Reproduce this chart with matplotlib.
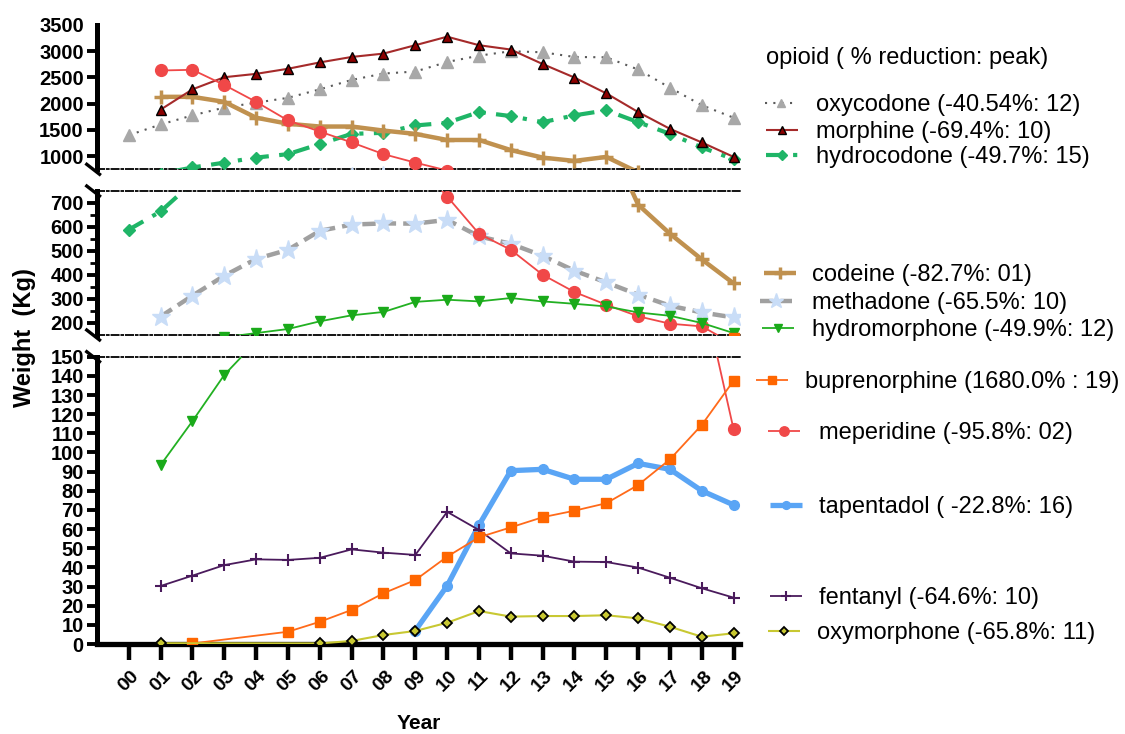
import numpy as np
import matplotlib
matplotlib.use("Agg")
import matplotlib.pyplot as plt

plt.rcParams['font.family'] = ['Liberation Sans', 'DejaVu Sans']

nan = np.nan
years = ['00', '01', '02', '03', '04', '05', '06', '07', '08', '09',
         '10', '11', '12', '13', '14', '15', '16', '17', '18', '19']

oxycodone = [1400, 1604, 1778, 1926, 2020, 2112, 2274, 2453, 2575, 2613,
             2795, 2916, 3000, 2980, 2891, 2884, 2652, 2305, 1971, 1733]
morphine = [nan, 1888, 2274, 2505, 2569, 2666, 2787, 2891, 2955, 3115,
            3277, 3115, 3032, 2756, 2498, 2197, 1841, 1521, 1262, 986]
hydrocodone = [589, 665, 785, 877, 973, 1039, 1232, 1425, 1445, 1585,
               1637, 1841, 1764, 1648, 1778, 1874, 1648, 1425, 1166, 942]
codeine = [nan, 2131, 2131, 2035, 1733, 1618, 1565, 1565, 1488, 1425,
           1309, 1309, 1116, 973, 910, 986, 693, 572, 465, 365]
methadone = [nan, 227, 314, 397, 467, 505, 584, 610, 615, 614,
             630, 561, 530, 480, 418, 369, 318, 272, 244, 223]
hydromorphone = [nan, 93.5, 116.4, 140.5, 158, 175, 207, 232, 246, 288,
                 297, 290, 304, 290, 280, 269, 244, 230, 200, 158]
buprenorphine = [nan, nan, 0.3, nan, nan, 6.4, 11.6, 17.8, 26.5, 33.4,
                 45.6, 55.7, 60.9, 66.2, 69.6, 73.5, 83.0, 96.4, 114.4, 137.5]
meperidine = [nan, 2633, 2646, 2357, 2035, 1681, 1469, 1262, 1039, 877,
              727, 572, 505, 401, 329, 276, 228, 197, 186, 112]
tapentadol = [nan, nan, nan, nan, nan, nan, nan, nan, nan, 7.0,
              30.4, 62.1, 90.5, 91.2, 86.0, 86.0, 94.3, 91.2, 80.0, 72.6]
fentanyl = [nan, 30.3, 35.7, 41.2, 44.2, 43.9, 45.0, 49.4, 47.7, 46.5,
            69.0, 59.5, 47.3, 46.1, 43.0, 42.8, 39.9, 34.6, 29.1, 24.2]
oxymorphone = [nan, 0.4, nan, nan, nan, nan, 0.3, 1.6, 4.7, 6.8,
               11.1, 17.2, 14.3, 14.6, 14.6, 15.0, 13.4, 9.0, 3.8, 5.6]

labels = ['oxycodone (-40.54%: 12)', 'morphine (-69.4%: 10)', 'hydrocodone (-49.7%: 15)',
          'codeine (-82.7%: 01)', 'methadone (-65.5%: 10)', 'hydromorphone (-49.9%: 12)',
          'buprenorphine (1680.0% : 19)', 'meperidine (-95.8%: 02)', 'tapentadol ( -22.8%: 16)',
          'fentanyl (-64.6%: 10)', 'oxymorphone (-65.8%: 11)']
legend_title = 'opioid ( % reduction: peak)'

series = [oxycodone, morphine, hydrocodone, codeine, methadone, hydromorphone,
          buprenorphine, meperidine, tapentadol, fentanyl, oxymorphone]

styles = [
    dict(color='#5a5a5a', ls=(0, (1, 3)), lw=1.5, marker='^', ms=8, mfc='#a8a8a8', mec='#a8a8a8', zorder=3),
    dict(color='#a52a2a', ls='-', lw=1.5, marker='^', ms=7, mfc='#8b0000', mec='black', mew=1.0, zorder=4),
    dict(color='#1fb567', ls=(0, (4, 2.5, 1, 2.5)), lw=3, marker='D', ms=6, mfc='#1fb567', mec='#1fb567', zorder=3),
    dict(color='#c0914f', ls='-', lw=3.2, marker='+', ms=10, mfc='#c0914f', mec='#c0914f', mew=2.5, zorder=3),
    dict(color='#a0a0a0', ls=(0, (3, 1.6)), lw=3.2, marker='*', ms=14, mfc='#c9ddf7', mec='#c9ddf7', zorder=3),
    dict(color='#22b022', ls='-', lw=1.3, marker='v', ms=7.5, mfc='#1aaa1a', mec='#1aaa1a', zorder=5),
    dict(color='#ff6a1a', ls='-', lw=1.3, marker='s', ms=7.5, mfc='#ff6600', mec='#ff6600', zorder=5),
    dict(color='#f04848', ls='-', lw=1.3, marker='o', ms=8.5, mfc='#f04848', mec='#f04848', zorder=4),
    dict(color='#5aa5f5', ls='-', lw=3.8, marker='o', ms=7, mfc='#5aa5f5', mec='#5aa5f5', zorder=4),
    dict(color='#4a1a5c', ls='-', lw=1.3, marker='+', ms=9, mfc='#4a1a5c', mec='#4a1a5c', mew=1.5, zorder=4),
    dict(color='#c8c832', ls='-', lw=1.5, marker='D', ms=5, mfc='#c8c832', mec='black', mew=1.3, zorder=5),
]

fig = plt.figure(figsize=(11.25, 7.34), dpi=100)
W, H = 1125, 734
left = 97 / W
width = (740 - 97) / W

def px_ax(top_px, bot_px):
    return [left, 1 - bot_px / H, width, (bot_px - top_px) / H]

ax_top = fig.add_axes(px_ax(25, 169.3))
ax_mid = fig.add_axes(px_ax(191, 335))
ax_bot = fig.add_axes(px_ax(356.7, 644))

x = np.arange(len(years))
handles = []
for ax in (ax_top, ax_mid, ax_bot):
    for s, st in zip(series, styles):
        arr = np.array(s, dtype=float)
        m = ~np.isnan(arr)
        ln, = ax.plot(x[m], arr[m], linestyle=st['ls'], color=st['color'], lw=st['lw'],
                      marker=st['marker'], ms=st['ms'], mfc=st['mfc'], mec=st['mec'],
                      mew=st.get('mew', 1.0), zorder=st['zorder'], solid_capstyle='butt')
        if ax is ax_bot:
            handles.append(ln)

ax_top.set_ylim(750, 3500)
ax_mid.set_ylim(150, 750)
ax_bot.set_ylim(0, 150)

ax_top.set_yticks([1000, 1500, 2000, 2500, 3000, 3500])
ax_mid.set_yticks([200, 300, 400, 500, 600, 700])
ax_mid.set_yticks([250, 350, 450, 550, 650], minor=True)
ax_bot.set_yticks(np.arange(0, 151, 10))

for ax in (ax_top, ax_mid, ax_bot):
    ax.set_xlim(-1, 19.2)
    ax.spines['right'].set_visible(False)
    ax.spines['left'].set_linewidth(3.6)
    ax.tick_params(axis='y', which='major', length=7.5, width=2.8, labelsize=14.5, pad=2)
    ax.tick_params(axis='y', which='minor', length=5, width=2.0)
    for lab in ax.get_yticklabels():
        lab.set_fontweight('bold')
    ax.patch.set_alpha(0)

# the 3500 label has no tick mark in the original
ax_top.yaxis.get_major_ticks()[-1].tick1line.set_visible(False)

for ax in (ax_top, ax_mid):
    ax.tick_params(axis='x', which='both', bottom=False, labelbottom=False)
    ax.spines['bottom'].set_linestyle((0, (4, 1.5, 1, 1.5)))
    ax.spines['bottom'].set_linewidth(1.3)
ax_top.spines['top'].set_visible(False)
for ax in (ax_mid, ax_bot):
    ax.spines['top'].set_linestyle((0, (4, 1.5, 1, 1.5)))
    ax.spines['top'].set_linewidth(1.3)

ax_bot.spines['bottom'].set_linewidth(3.8)
ax_bot.set_xticks(x)
ax_bot.set_xticklabels(years, rotation=45, ha='center', va='top', fontweight='bold', fontsize=14)
ax_bot.tick_params(axis='x', length=11.5, width=3.2, pad=5.5)
ax_bot.set_xlabel('Year', fontsize=15, fontweight='bold', labelpad=14)

fig.text(24 / W, 1 - 338 / H, 'Weight  (Kg)', rotation=90, ha='center', va='center',
         fontsize=17, fontweight='bold')

# break marks on the left spine
for ax, ys in ((ax_top, [0]), (ax_mid, [0, 1]), (ax_bot, [1])):
    for yy in ys:
        hgt = 12 / (ax.get_position().height * H)
        ax.plot([-0.018, 0.006], [yy + hgt / 2, yy - hgt / 2], transform=ax.transAxes,
                color='black', lw=2.4, clip_on=False, solid_capstyle='butt')

# legend
FS = 17
fig.text(766 / W, 1 - 58 / H, legend_title, ha='left', va='center', fontsize=FS)
leg_pos = [(765, 105, 816), (766, 132, 816), (766, 157, 816), (764, 275, 812),
           (760, 303, 812), (762, 330, 812), (756, 382, 805), (768, 433, 819),
           (770, 507, 819), (770, 598, 819), (768, 633, 817)]
fs_px = FS * 100 / 72
for h, lab, (px, py, tx) in zip(handles, labels, leg_pos):
    hl = 32 / fs_px
    pad = (tx - px - 32) / fs_px
    fig.legend(handles=[h], labels=[lab], loc='center left',
               bbox_to_anchor=(px / W, 1 - py / H), frameon=False,
               fontsize=FS, handlelength=hl, handletextpad=pad,
               borderpad=0, borderaxespad=0, numpoints=1, markerscale=0.8)

fig.savefig('out.png', dpi=100)
